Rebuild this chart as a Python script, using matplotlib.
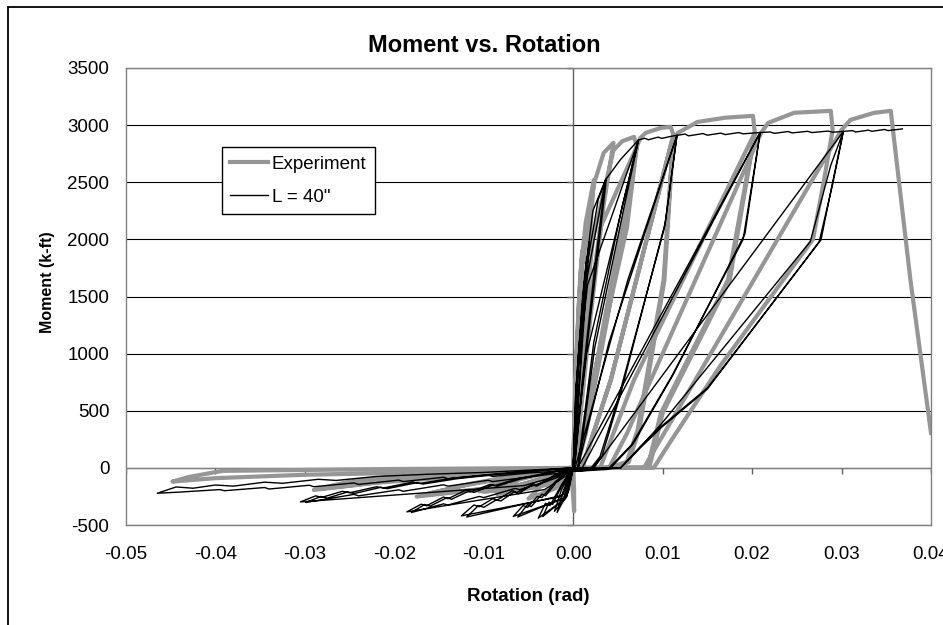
import matplotlib
matplotlib.use("Agg")
import matplotlib.pyplot as plt
from matplotlib import font_manager
from matplotlib.patches import Rectangle

plt.rcParams['font.family'] = ['Liberation Sans', 'DejaVu Sans']

# ---- data (rotation rad, moment k-ft) ----
# experiment: small cycles near the origin
exp_small = [
    (0, 0), (0.0002, 600), (0.0006, 1400), (0.0010, 1900), (0.0006, 950), (0.0001, 100), (0, 0),
    (0.0001, -200), (0.0001, -380), (-0.0001, -150), (0, 0),
    (0.0003, 900), (0.0008, 1700), (0.0014, 2150), (0.0023, 2520), (0.0014, 1500), (0.0004, 300), (0, 0),
    (-0.0020, -180), (-0.0050, -270), (-0.0030, -110), (-0.0010, -30), (0, 0),
    (0.0004, 1000), (0.0010, 1750), (0.0023, 2480), (0.0034, 2757), (0.0045, 2845), (0.0034, 2300),
    (0.0019, 1300), (0.0006, 300), (0, 0),
    (-0.0030, -150), (-0.0085, -230), (-0.0060, -100), (-0.0020, -30), (0, 0),
]
# experiment: cycles to 0.007 rad
exp_c1 = [
    (0.0006, 800), (0.0022, 2000), (0.0045, 2780), (0.0055, 2860), (0.0068, 2897), (0.0071, 2810),
    (0.0058, 2250), (0.0035, 1300), (0.0012, 300), (0.0003, 0),
    (-0.0040, -160), (-0.0100, -210), (-0.0070, -90), (-0.0030, -30), (0, 0),
    (0.0008, 800), (0.0030, 2100), (0.0071, 2810), (0.0060, 2300), (0.0038, 1300), (0.0014, 300), (0.0004, 0),
    (-0.0045, -170), (-0.0105, -205), (-0.0075, -85), (-0.0030, -25), (0, 0),
]
# experiment: cycles to 0.011 rad
exp_c2 = [
    (0.0003, 0), (0.0022, 770), (0.0060, 2100), (0.0071, 2810), (0.0075, 2888), (0.0081, 2932),
    (0.0098, 2976), (0.0109, 2985), (0.0112, 2915),
    (0.0101, 1645), (0.0072, 333), (0.0060, 53), (0.0040, 0), (0, -20),
    (-0.0060, -150), (-0.0175, -251), (-0.0120, -150), (-0.0060, -70), (-0.0008, -35), (0, 0),
    (0.0010, 0), (0.0042, 770), (0.0112, 2915), (0.0102, 1645), (0.0074, 340), (0.0062, 50), (0.0042, 0), (0, -20),
    (-0.0060, -150), (-0.0170, -240), (-0.0115, -140), (-0.0060, -60), (0, 0),
]
# experiment: cycles to 0.020 rad
exp_c3 = [
    (0.0010, 0), (0.0042, 770), (0.0110, 2850), (0.0117, 2932), (0.0139, 3028), (0.0170, 3065),
    (0.0201, 3081), (0.0203, 2932),
    (0.0173, 1645), (0.0098, 480), (0.0083, 0), (0.0040, 0), (0, -10),
    (-0.0100, -60), (-0.0220, -130), (-0.0290, -193), (-0.0250, -120), (-0.0180, -60), (-0.0100, -25), (0, 0),
    (0.0030, 0), (0.0068, 770), (0.0203, 2932), (0.0175, 1645), (0.0100, 480), (0.0085, 0), (0.0040, 0), (0, -10),
    (-0.0100, -50), (-0.0200, -110), (-0.0280, -180), (-0.0240, -110), (-0.0170, -50), (0, 0),
]
# experiment: cycles to 0.029 rad and final push
exp_c4 = [
    (0.0040, 0), (0.0060, 300), (0.0210, 2932), (0.0218, 3020), (0.0247, 3108), (0.0288, 3125), (0.0290, 2958),
    (0.0280, 2500), (0.0268, 2000), (0.0165, 900), (0.0110, 245), (0.0090, 0), (0.0034, 0), (0, -10),
    (-0.0100, -30), (-0.0300, -60), (-0.0400, -90), (-0.0448, -120), (-0.0430, -80), (-0.0392, -26),
    (-0.0200, -10), (0, 0),
    (0.0034, 0), (0.0079, 0), (0.0300, 2958), (0.0310, 3046), (0.0336, 3107), (0.0355, 3125),
    (0.0377, 1645), (0.0400, 306),
]

# model L = 40": small cycles
mod_small = [
    (0, 0), (0.0004, 800), (0.0010, 1450), (0.0015, 1850), (0.0008, 900), (0.0002, 150), (0, 0),
    (-0.0005, -200), (-0.0018, -390), (-0.0011, -200), (-0.0004, -60), (0, 0),
    (0.0005, 900), (0.0012, 1600), (0.0018, 1980), (0.0009, 950), (0.0002, 120), (0, 0),
    (-0.0007, -250), (-0.0021, -380), (-0.0013, -190), (-0.0004, -50), (0, 0),
    (0.0006, 1000), (0.0014, 1750), (0.0022, 2250), (0.0036, 2520), (0.0024, 1750), (0.0010, 750),
    (0.0002, 60), (0, 0),
    (-0.0008, -260), (-0.0034, -426), (-0.0027, -300), (-0.0023, -320), (-0.0013, -160), (-0.0004, -40), (0, 0),
    (0.0007, 1050), (0.0016, 1800), (0.0028, 2350), (0.0037, 2530), (0.0025, 1700), (0.0010, 700),
    (0.0002, 50), (0, 0),
    (-0.0009, -270), (-0.0039, -440), (-0.0031, -310), (-0.0026, -330), (-0.0014, -160), (-0.0004, -40), (0, 0),
]
# model: cycles to 0.0073 rad
mod_c1 = [
    (0.0003, 700), (0.0015, 1645), (0.0036, 2520), (0.0053, 2700), (0.0073, 2870),
    (0.0055, 2300), (0.0023, 1100), (0.0005, 0), (0, -10),
    (-0.0010, -260), (-0.0062, -430), (-0.0051, -320), (-0.0047, -340), (-0.0035, -230), (-0.0031, -245),
    (-0.0019, -130), (-0.0006, -30), (0, 0),
    (0.0003, 700), (0.0016, 1600), (0.0073, 2870),
    (0.0056, 2250), (0.0024, 1050), (0.0006, 0), (0, -10),
    (-0.0011, -270), (-0.0067, -425), (-0.0056, -330), (-0.0051, -345), (-0.0040, -250), (-0.0035, -260),
    (-0.0020, -120), (-0.0006, -30), (0, 0),
]
# model: cycles to 0.0116 rad
mod_c2 = [
    (0.0015, 1000), (0.0073, 2870), (0.0080, 2885), (0.0084, 2872), (0.0095, 2895), (0.0099, 2884),
    (0.0110, 2903), (0.0116, 2910),
    (0.0102, 2100), (0.0050, 600), (0.0030, 100), (0.0020, 0), (0, -20),
    (-0.0012, -240), (-0.0119, -430), (-0.0106, -330), (-0.0100, -345), (-0.0086, -280), (-0.0081, -290),
    (-0.0066, -210), (-0.0061, -225), (-0.0046, -150), (-0.0041, -160), (-0.0020, -70), (0, 0),
    (0.0002, 0), (0.0061, 1645), (0.0116, 2910),
    (0.0103, 2150), (0.0052, 620), (0.0032, 100), (0.0022, 0), (0, -20),
    (-0.0013, -250), (-0.0125, -420), (-0.0111, -325), (-0.0105, -340), (-0.0090, -270), (-0.0085, -282),
    (-0.0068, -200), (-0.0063, -215), (-0.0045, -140), (-0.0040, -150), (-0.0020, -60), (0, 0),
]
# model: cycles to 0.0209 rad
mod_c3 = [
    (0.0005, 0), (0.0040, 1100), (0.0116, 2910), (0.0125, 2922), (0.0129, 2906), (0.0145, 2926),
    (0.0150, 2912), (0.0165, 2930), (0.0170, 2917), (0.0185, 2935), (0.0190, 2924), (0.0209, 2935),
    (0.0190, 2000), (0.0110, 800), (0.0065, 200), (0.0040, 0), (0, -30),
    (-0.0030, -120), (-0.0060, -190), (-0.0065, -180), (-0.0100, -260), (-0.0105, -250), (-0.0140, -325),
    (-0.0145, -315), (-0.0181, -391),
    (-0.0166, -320), (-0.0160, -335), (-0.0141, -260), (-0.0136, -275),
    (-0.0116, -200), (-0.0111, -215), (-0.0090, -150), (-0.0085, -160), (-0.0060, -100), (-0.0030, -50), (0, 0),
    (0.0005, 0), (0.0209, 2935),
    (0.0192, 2050), (0.0112, 820), (0.0067, 210), (0.0042, 0), (0, -30),
    (-0.0032, -190), (-0.0186, -385), (-0.0170, -318), (-0.0164, -332), (-0.0145, -255), (-0.0140, -270),
    (-0.0120, -195), (-0.0115, -210), (-0.0093, -145), (-0.0088, -155), (-0.0062, -95), (-0.0030, -45), (0, 0),
]
# model: cycles to 0.0302 rad
mod_c4 = [
    (0.0010, 0), (0.0209, 2935), (0.0220, 2940), (0.0225, 2928), (0.0240, 2944), (0.0245, 2932),
    (0.0262, 2946), (0.0267, 2935), (0.0285, 2948), (0.0290, 2938), (0.0302, 2945),
    (0.0290, 2500), (0.0277, 1995), (0.0150, 700), (0.0098, 360), (0.0075, 184), (0.0053, 0), (0, -30),
    (-0.0050, -80), (-0.0090, -120), (-0.0095, -108), (-0.0140, -160), (-0.0145, -148), (-0.0190, -205),
    (-0.0195, -192), (-0.0240, -245), (-0.0245, -232), (-0.0299, -303),
    (-0.0282, -250), (-0.0275, -265), (-0.0252, -210), (-0.0245, -225),
    (-0.0215, -170), (-0.0208, -182), (-0.0175, -130), (-0.0168, -142), (-0.0130, -95), (-0.0090, -60),
    (-0.0045, -30), (0, 0),
    (0.0023, 0), (0.0302, 2945),
    (0.0290, 2480), (0.0275, 1980), (0.0150, 690), (0.0098, 350), (0.0075, 175), (0.0053, 0), (0, -30),
    (-0.0055, -155), (-0.0305, -298), (-0.0288, -245), (-0.0281, -258), (-0.0258, -205), (-0.0250, -218),
    (-0.0220, -165), (-0.0212, -176), (-0.0180, -125), (-0.0172, -136), (-0.0135, -90), (-0.0090, -55),
    (-0.0045, -25), (0, 0),
]
# model: large negative cycle and final push
mod_c5 = [
    (0, -20), (-0.0050, -45), (-0.0090, -75), (-0.0095, -62), (-0.0140, -95), (-0.0145, -82),
    (-0.0190, -120), (-0.0195, -107), (-0.0240, -145), (-0.0245, -132), (-0.0290, -165), (-0.0295, -152),
    (-0.0340, -185), (-0.0345, -172), (-0.0390, -200), (-0.0395, -190), (-0.0440, -212), (-0.0465, -222),
    (-0.0444, -167), (-0.0425, -178), (-0.0400, -150), (-0.0380, -160), (-0.0345, -125), (-0.0325, -135),
    (-0.0285, -100), (-0.0265, -110), (-0.0220, -75), (-0.0160, -55), (-0.0100, -40), (-0.0050, -20), (0, 0),
    (0.0053, 0), (0.0075, 184), (0.0098, 380), (0.0265, 1980), (0.0288, 2650), (0.0302, 2945),
    (0.0312, 2952), (0.0316, 2940), (0.0330, 2956), (0.0334, 2946), (0.0348, 2962), (0.0352, 2952),
    (0.0368, 2967),
]

x_ticks = [-0.05, -0.04, -0.03, -0.02, -0.01, 0.00, 0.01, 0.02, 0.03, 0.04]
y_ticks = [-500, 0, 500, 1000, 1500, 2000, 2500, 3000, 3500]

experiment = exp_small + exp_c1 + exp_c2 + exp_c3 + exp_c4
model = mod_small + mod_c1 + mod_c2 + mod_c3 + mod_c4 + mod_c5

# narrow bold face for the title and the y title, if it is there
names = {f.name for f in font_manager.fontManager.ttflist}
if 'Liberation Sans Narrow' in names:
    title_font = dict(family='Liberation Sans Narrow', fontsize=20, fontweight='bold')
    ylab_font = dict(family='Liberation Sans Narrow', fontsize=13.5, fontweight='bold')
else:
    title_font = dict(fontsize=17, fontweight='bold')
    ylab_font = dict(fontsize=11.5, fontweight='bold')

W, H = 943, 625
fig = plt.figure(figsize=(W / 100, H / 100), dpi=100)
ax = fig.add_axes([126 / W, 1 - 525 / H, (931 - 126) / W, (525 - 68) / H])

# chart area border (cut by the image on the right and bottom)
fig.patches.append(Rectangle((8 / W, -0.1), 1.2, 1.1 - 7 / H, transform=fig.transFigure,
                             fill=False, edgecolor='black', lw=1.3))

ax.set_xlim(x_ticks[0], x_ticks[-1])
ax.set_ylim(y_ticks[0], y_ticks[-1])
ax.set_xticks(x_ticks)
ax.set_yticks(y_ticks)
ax.set_xticklabels(['%.2f' % v for v in x_ticks])
ax.set_yticklabels([str(v) for v in y_ticks])
ax.tick_params(length=0, labelsize=13.5, colors='black')
ax.tick_params(axis='x', pad=15)
ax.tick_params(axis='y', pad=12)
for s in ax.spines.values():
    s.set_color('#808080')
    s.set_linewidth(1.0)

ax.yaxis.grid(True, color='black', lw=0.8, zorder=0)
ax.set_axisbelow(True)

# axes crossing at zero, with their tick marks
ax.axhline(0, color='#808080', lw=1.0, zorder=1)
ax.axvline(0, color='#606060', lw=1.0, zorder=1)
ax.plot(x_ticks, [0] * len(x_ticks), ls='none', marker=3, ms=4, mew=1, color='#606060', zorder=1)
ax.plot([0] * len(y_ticks), y_ticks, ls='none', marker=0, ms=4, mew=1, color='#606060', zorder=1,
        clip_on=False)

ax.plot([p[0] for p in experiment], [p[1] for p in experiment], color='#969696', lw=3.0,
        solid_joinstyle='round', zorder=2, label='Experiment')
ax.plot([p[0] for p in model], [p[1] for p in model], color='black', lw=1.0, zorder=3,
        label='L = 40"')

leg = ax.legend(loc='upper left', bbox_to_anchor=(222 / W, 1 - 147 / H), bbox_transform=fig.transFigure,
                fontsize=13.5, frameon=True, fancybox=False, framealpha=1, edgecolor='black',
                borderaxespad=0, borderpad=0.45, handlelength=2.0, handletextpad=0.2, labelspacing=0.85)
leg.get_frame().set_linewidth(1.0)

fig.text(484 / W, 1 - 45 / H, 'Moment vs. Rotation', ha='center', va='center', **title_font)
ax.set_xlabel('Rotation (rad)', fontsize=13.5, fontweight='bold')
ax.xaxis.set_label_coords(0.5, -0.138)
ax.set_ylabel('Moment (k-ft)', **ylab_font)
ax.yaxis.set_label_coords(-(126 - 55) / (931 - 126), 0.532)

fig.savefig('out.png', dpi=100)
